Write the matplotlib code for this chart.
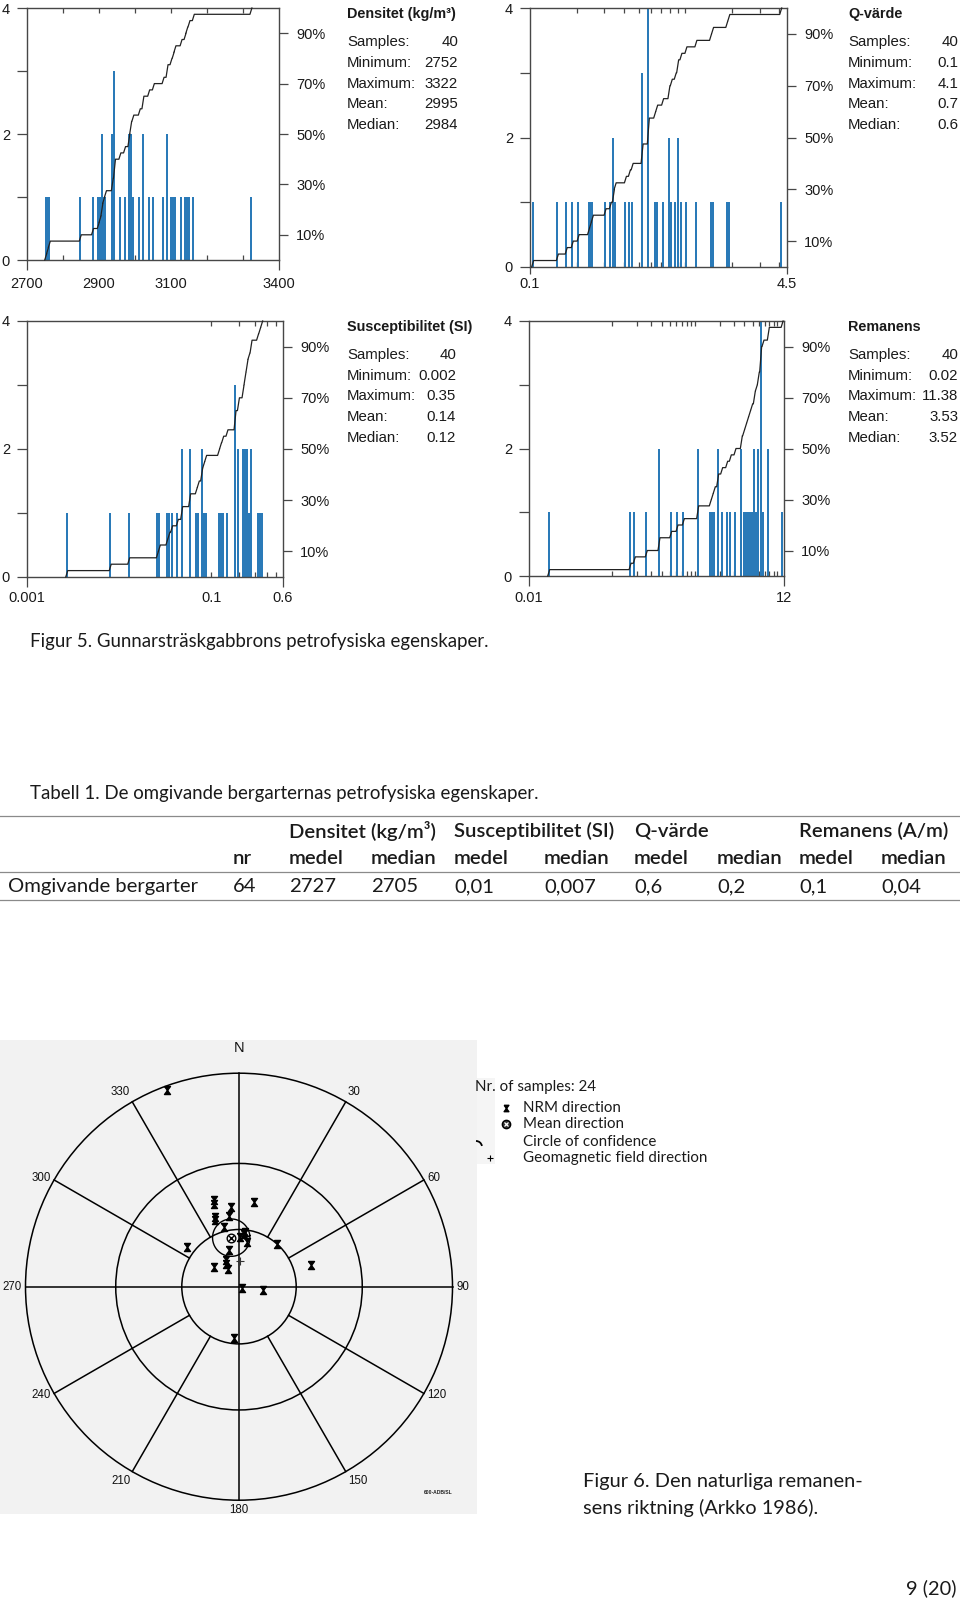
import numpy as np
import matplotlib
matplotlib.use("Agg")
import matplotlib.pyplot as plt
from matplotlib.patches import Circle, Rectangle, Arc
from matplotlib.ticker import NullLocator

W, H = 960, 1600
DPI = 100
PT = 72.0 / DPI  # points per pixel

# ---------------- data ----------------
stat_labels = ["Samples:", "Minimum:", "Maximum:", "Mean:", "Median:"]

dens_title = "Densitet (kg/m³)"
dens_x = [2752, 2757, 2762, 2848, 2882, 2898, 2903, 2908, 2913, 2918, 2937, 2943,
          2958, 2971, 2983, 2988, 2994, 3012, 3022, 3038, 3051, 3078, 3089, 3100,
          3106, 3111, 3128, 3139, 3144, 3150, 3162, 3322]
dens_n = [1, 1, 1, 1, 1, 1, 1, 2, 1, 1, 2, 3,
          1, 1, 2, 2, 1, 1, 2, 1, 1, 1, 2, 1,
          1, 1, 1, 1, 1, 1, 1, 1]
dens_stats = ["40", "2752", "3322", "2995", "2984"]
dens_xlim = [2700, 3400]
dens_major = [2700, 3400]
dens_major_lbl = ["2700", "3400"]
dens_minor = [2800, 2900, 3000, 3100, 3200, 3300]
dens_minor_lbl = ["", "2900", "", "3100", "", ""]

q_title = "Q-värde"
q_x = [0.104, 0.150, 0.171, 0.187, 0.204, 0.238, 0.245, 0.252, 0.304, 0.329, 0.344,
       0.353, 0.411, 0.436, 0.454, 0.526, 0.577, 0.634, 0.653, 0.713, 0.783, 0.811,
       0.860, 0.891, 0.935, 1.007, 1.167, 1.450, 1.494, 1.845, 1.901, 4.10]
q_n = [1, 1, 1, 1, 1, 1, 1, 1, 1, 1, 2,
       1, 1, 1, 1, 3, 4, 1, 1, 1, 2, 1,
       1, 2, 1, 1, 1, 1, 1, 1, 1, 1]
q_stats = ["40", "0.1", "4.1", "0.7", "0.6"]
q_xlim = [0.1, 4.5]
q_major = [0.1, 4.5]
q_major_lbl = ["0.1", "4.5"]
q_minor = [0.2, 0.3, 0.4, 0.5, 0.6, 0.7, 0.8, 0.9, 1, 2, 3, 4]
q_minor_lbl = [""] * 12

sus_title = "Susceptibilitet (SI)"
sus_x = [0.0027, 0.0080, 0.0127, 0.0260, 0.0273, 0.0330, 0.0347, 0.0371, 0.0428,
         0.0477, 0.0582, 0.0688, 0.0723, 0.0786, 0.0826, 0.0868, 0.120, 0.126,
         0.133, 0.148, 0.181, 0.197, 0.221, 0.232, 0.244, 0.256, 0.270, 0.318,
         0.335, 0.352]
sus_n = [1, 1, 1, 1, 1, 1, 1, 1, 1,
         2, 2, 1, 1, 2, 1, 1, 1, 1,
         1, 1, 3, 2, 2, 2, 2, 1, 2, 1,
         1, 1]
sus_stats = ["40", "0.002", "0.35", "0.14", "0.12"]
sus_xlim = [0.001, 0.6]
sus_major = [0.001, 0.6]
sus_major_lbl = ["0.001", "0.6"]
sus_minor = [0.1, 0.2, 0.3, 0.4, 0.5]
sus_minor_lbl = ["0.1", "", "", "", ""]

rem_title = "Remanens"
rem_x = [0.0173, 0.166, 0.187, 0.261, 0.371, 0.514, 0.613, 0.731, 1.088, 1.547,
         1.636, 1.729, 1.898, 2.121, 2.437, 2.699, 3.073, 3.665, 3.910, 4.133,
         4.369, 4.619, 4.883, 5.259, 5.560, 5.877, 6.272, 6.692, 7.762, 11.38]
rem_n = [1, 1, 1, 1, 2, 1, 1, 1, 2, 1,
         1, 1, 2, 1, 1, 1, 1, 2, 1, 1,
         1, 1, 1, 2, 1, 2, 4, 1, 2, 1]
rem_stats = ["40", "0.02", "11.38", "3.53", "3.52"]
rem_xlim = [0.01, 12]
rem_major = [0.01, 12]
rem_major_lbl = ["0.01", "12"]
rem_minor = [0.1, 0.2, 0.3, 0.4, 0.5, 0.6, 0.7, 0.8, 0.9, 1, 2, 3, 4, 5, 6, 7, 8, 9, 10]
rem_minor_lbl = [""] * 19

count_ticks = [0, 1, 2, 3, 4]
count_labels = ["0", "", "2", "", "4"]
pct_ticks = [10, 30, 50, 70, 90]
pct_labels = ["10%", "30%", "50%", "70%", "90%"]

caption5 = "Figur 5. Gunnarsträskgabbrons petrofysiska egenskaper."
table_title = "Tabell 1. De omgivande bergarternas petrofysiska egenskaper."
tab_groups = ["Densitet (kg/m³)", "Susceptibilitet (SI)", "Q-värde", "Remanens (A/m)"]
tab_sub = ["nr", "medel", "median", "medel", "median", "medel", "median", "medel", "median"]
tab_row_label = "Omgivande bergarter"
tab_values = ["64", "2727", "2705", "0,01", "0,007", "0,6", "0,2", "0,1", "0,04"]

# stereonet (declination, inclination in degrees)
nrm_dec = [340, 344, 343, 354, 341, 352, 10, 346, 6, 10, 1, 345, 334, 331, 307, 328,
           307, 42, 73, 112, 98, 186, 5, 340]
nrm_inc = [1, 44, 46, 49, 52, 53, 46, 58, 61, 66, 64, 70, 74, 76, 73, 79,
           56, 60, 51, 88, 77, 63, 62, 53]
mean_dec, mean_inc = 351, 64
alpha95 = 9.5
geo_dec, geo_inc = 2, 76
ring_inc = [60, 30, 0]
spoke_az = [30, 60, 120, 150, 210, 240, 300, 330]
label_az = [0, 30, 60, 90, 120, 150, 180, 210, 240, 270, 300, 330]
legend_title = "Nr. of samples: 24"
legend_items = ["NRM direction", "Mean direction", "Circle of confidence",
                "Geomagnetic field direction"]
caption6 = ["Figur 6. Den naturliga remanen-", "sens riktning (Arkko 1986)."]
page_no = "9 (20)"

# ---------------- style ----------------
BLUE = "#2a7ab8"
SPINE = "#474747"
INK = "#1a1a1a"
plt.rcParams["font.family"] = ["Liberation Sans", "DejaVu Sans"]
HUM = ["Lato", "DejaVu Sans"]
TICK_FS = 10.5

fig = plt.figure(figsize=(W / DPI, H / DPI), dpi=DPI)


def rect(x0, y0, x1, y1):
    return [x0 / W, 1 - y1 / H, (x1 - x0) / W, (y1 - y0) / H]


ov = fig.add_axes([0, 0, 1, 1], zorder=0)
ov.set_xlim(0, W)
ov.set_ylim(H, 0)
ov.axis("off")


def panel(box, xs, ns, xlim, log, major, major_lbl, minor, minor_lbl,
          maj_len_px, xpad_px, title, stats, tx, vx, ty):
    ax = fig.add_axes(rect(*box), zorder=2)
    xs = np.asarray(xs, float)
    ns = np.asarray(ns, float)
    nb = 128.0
    if log:
        ax.set_xscale("log")
        lo, hi = np.log10(xlim)
        bw = (hi - lo) / nb
        lefts, rights = xs * 10 ** (-bw / 2), xs * 10 ** (bw / 2)
    else:
        bw = (xlim[1] - xlim[0]) / nb
        lefts, rights = xs - bw / 2, xs + bw / 2
    ax.bar(lefts, ns, width=rights - lefts, align="edge", color=BLUE,
           linewidth=0, zorder=2)
    cum = np.cumsum(ns) / ns.sum() * 4
    px, py, prev = [], [], 0.0
    for l, r, c in zip(lefts, rights, cum):
        px += [l, r]
        py += [prev, c]
        prev = c
    ax.plot(px, py, color="#222222", lw=0.9, zorder=3, clip_on=False)
    ax.set_xlim(xlim)
    ax.set_ylim(0, 4)
    for s in ax.spines.values():
        s.set_color(SPINE)
        s.set_linewidth(1.0)
    ax.set_xticks(major)
    ax.set_xticklabels(major_lbl)
    ax.set_xticks(minor, minor=True)
    ax.set_xticklabels(minor_lbl, minor=True)
    ml = maj_len_px * PT
    ax.tick_params(axis="x", which="major", direction="out", length=ml, width=0.9,
                   pad=xpad_px * PT, top=False, bottom=True, labelsize=TICK_FS,
                   color=SPINE, labelcolor=INK)
    ax.tick_params(axis="x", which="minor", direction="in", length=3.6, width=0.9,
                   pad=xpad_px * PT + ml, top=True, bottom=True, labelsize=TICK_FS,
                   color=SPINE, labelcolor=INK)
    ax.set_yticks(count_ticks)
    ax.set_yticklabels(count_labels)
    ax.yaxis.set_minor_locator(NullLocator())
    ax.tick_params(axis="y", direction="out", length=7.2, width=0.9, pad=5.0,
                   labelsize=TICK_FS, color=SPINE, labelcolor=INK)
    tw = ax.twinx()
    tw.set_ylim(0, 100)
    tw.set_yticks(pct_ticks)
    tw.set_yticklabels(pct_labels)
    tw.yaxis.set_minor_locator(NullLocator())
    tw.tick_params(axis="y", direction="out", length=6.5, width=0.9, pad=6.0,
                   labelsize=TICK_FS, color=SPINE, labelcolor=INK)
    for s in tw.spines.values():
        s.set_visible(False)
    ov.text(tx, ty, title, fontsize=10.4, fontweight="bold", va="center",
            ha="left", color=INK)
    for k, (lab, val) in enumerate(zip(stat_labels, stats)):
        yy = ty + 28.3 + 20.7 * k
        ov.text(tx, yy, lab, fontsize=10.8, va="center", ha="left", color=INK)
        ov.text(vx, yy, val, fontsize=10.8, va="center", ha="right", color=INK)
    return ax


panel((27, 8, 279, 260), dens_x, dens_n, dens_xlim, False, dens_major,
      dens_major_lbl, dens_minor, dens_minor_lbl, 10, 7, dens_title, dens_stats,
      347, 458, 14)
panel((530, 8, 787, 267), q_x, q_n, q_xlim, True, q_major, q_major_lbl, q_minor,
      q_minor_lbl, 7, 3, q_title, q_stats, 848, 958, 14)
panel((27, 321, 283, 577), sus_x, sus_n, sus_xlim, True, sus_major, sus_major_lbl,
      sus_minor, sus_minor_lbl, 10, 4, sus_title, sus_stats, 347, 456, 326.7)
panel((529, 321, 784, 576), rem_x, rem_n, rem_xlim, True, rem_major, rem_major_lbl,
      rem_minor, rem_minor_lbl, 10, 5, rem_title, rem_stats, 848, 958, 326.7)

# ---------------- stereonet ----------------
ov.add_patch(Rectangle((0, 1040), 477, 474, facecolor="#f2f2f2", edgecolor="none",
                       zorder=0))
ov.add_patch(Rectangle((477, 1078), 18, 86, facecolor="#f5f5f5", edgecolor="none",
                       zorder=0))
cx, cy, R0 = 239.0, 1286.7, 213.5
st = fig.add_axes(rect(cx - 240, cy - 240, cx + 240, cy + 240), zorder=3)
lim = 240 / R0
st.set_xlim(-lim, lim)
st.set_ylim(-lim, lim)
st.set_aspect("equal")
st.axis("off")


def proj(dec, inc):
    d = np.radians(np.asarray(dec, float))
    i = np.radians(np.asarray(inc, float))
    r = np.tan((np.pi / 2 - i) / 2)
    return r * np.sin(d), r * np.cos(d)


LW = 1.1
for inc in ring_inc:
    r = np.tan(np.radians(90 - inc) / 2)
    st.add_patch(Circle((0, 0), r, fill=False, lw=LW, color="k"))
r_in = np.tan(np.radians(90 - ring_inc[0]) / 2)
st.plot([0, 0], [-1, 1], color="k", lw=LW)
st.plot([-1, 1], [0, 0], color="k", lw=LW)
for az in spoke_az:
    a = np.radians(az)
    st.plot([r_in * np.sin(a), np.sin(a)], [r_in * np.cos(a), np.cos(a)],
            color="k", lw=LW)
for az in label_az:
    a = np.radians(az)
    s, c = np.sin(a), np.cos(a)
    if az == 0:
        st.annotate("N", (s, c), xytext=(0, 18), textcoords="offset pixels",
                    ha="center", va="bottom", fontsize=10.5, color="#111")
        continue
    ha = "left" if s > 0.3 else ("right" if s < -0.3 else "center")
    va = "bottom" if c > 0.7 else ("top" if c < -0.7 else "center")
    st.annotate(str(az), (s, c), xytext=(4 * s, 4 * c), textcoords="offset pixels",
                ha=ha, va=va, fontsize=8.3, color="#111")

HOUR = [(-0.75, 1), (0.75, 1), (-0.75, -1), (0.75, -1), (-0.75, 1)]
nx, ny = proj(nrm_dec, nrm_inc)
st.plot(nx, ny, ls="none", marker=HOUR, ms=5.8, color="k", mew=1.0)
mx, my = proj(mean_dec, mean_inc)
st.plot([mx], [my], ls="none", marker="o", ms=6.2, mfc="none", mec="k", mew=1.0)
st.plot([mx], [my], ls="none", marker="x", ms=3.8, color="k", mew=1.0)
# circle of confidence: small circle around mean direction
d0, i0 = np.radians(mean_dec), np.radians(mean_inc)
m = np.array([np.cos(i0) * np.sin(d0), np.cos(i0) * np.cos(d0), np.sin(i0)])
e1 = np.cross(m, [0, 0, 1.0])
e1 /= np.linalg.norm(e1)
e2 = np.cross(m, e1)
t = np.linspace(0, 2 * np.pi, 200)
a95 = np.radians(alpha95)
pts = (np.cos(a95) * m[:, None] + np.sin(a95) *
       (np.outer(e1, np.cos(t)) + np.outer(e2, np.sin(t))))
st.plot(pts[0] / (1 + pts[2]), pts[1] / (1 + pts[2]), color="k", lw=1.0)
gx, gy = proj(geo_dec, geo_inc)
st.plot([gx], [gy], ls="none", marker="+", ms=5.5, color="#333", mew=0.8)

ov.text(438, 1493, "600-ADB/SL", fontsize=3.6, fontweight="bold", ha="center",
        va="center", color="#222")

# ---------------- captions / table / legend ----------------
fig.canvas.draw()
RND = fig.canvas.get_renderer()


def fit(tobj, target):
    w = tobj.get_window_extent(RND).width
    tobj.set_fontsize(tobj.get_fontsize() * target / w)
    return tobj.get_fontsize()


fit(ov.text(30, 641, caption5, fontsize=13, family=HUM, va="center", color=INK), 459)
fit(ov.text(30, 793, table_title, fontsize=13, family=HUM, va="center", color=INK), 506)
fs_tab = fit(ov.text(8, 886.5, tab_row_label, fontsize=13, family=HUM, va="center",
                     color=INK), 189)
ov.plot([0, W], [816, 816], color="#8a8a8a", lw=0.9)
ov.plot([0, W], [872, 872], color="#8a8a8a", lw=0.9)
ov.plot([0, W], [900, 900], color="#8a8a8a", lw=0.9)
col_x = [233, 289, 371, 454, 544, 634, 717, 799, 881]
for g, xg in zip(tab_groups, col_x[1::2]):
    ov.text(xg, 831, g, fontsize=fs_tab, family=HUM, fontweight="semibold",
            va="center", color=INK)
for sname, xs_ in zip(tab_sub, col_x):
    ov.text(xs_, 859, sname, fontsize=fs_tab, family=HUM, fontweight="semibold",
            va="center", color=INK)
for v, xs_ in zip(tab_values, col_x):
    ov.text(xs_, 886.5, v, fontsize=fs_tab, family=HUM, va="center", color=INK)

fs_leg = fit(ov.text(475, 1087, legend_title, fontsize=10, family=HUM, va="center",
                     color=INK), 121)
leg_y = [1108, 1124, 1142, 1158]
for lab, yy in zip(legend_items, leg_y):
    ov.text(523, yy, lab, fontsize=fs_leg, family=HUM, va="center", color=INK)
ov.plot([506], [leg_y[0]], ls="none", marker=HOUR, ms=4.6, color="k")
ov.plot([506], [leg_y[1]], ls="none", marker="o", ms=6, mfc="#333", mec="k")
ov.plot([506], [leg_y[1]], ls="none", marker="x", ms=3.5, color="w", mew=0.9)
ov.add_patch(Arc((476, 1147), 12, 12, theta1=270, theta2=350, lw=1.3, color="k"))
ov.plot([490], [leg_y[3]], ls="none", marker="+", ms=5, color="k", mew=0.8)

fs6 = fit(ov.text(583, 1481, caption6[0], fontsize=13, family=HUM, va="center",
                  color=INK), 279)
ov.text(583, 1508, caption6[1], fontsize=fs6, family=HUM, va="center", color=INK)
ov.text(957, 1588, page_no, fontsize=fs6, family=HUM, va="center", ha="right",
        color=INK)

fig.savefig("out.png", dpi=DPI)
